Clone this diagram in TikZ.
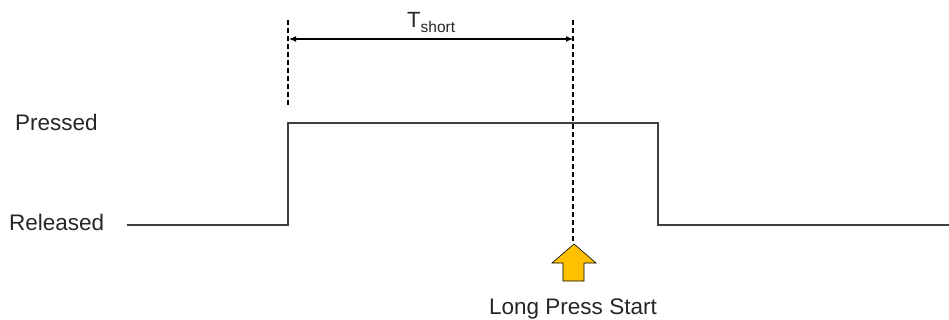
\documentclass[tikz,border=0pt]{standalone}
\usepackage{fontspec}
\setmainfont{Liberation Sans}
\usetikzlibrary{arrows.meta}
\definecolor{arrowyellow}{HTML}{FFC000}
\definecolor{sig}{HTML}{404040}
\definecolor{txt}{HTML}{262626}
\begin{document}
\begin{tikzpicture}[x=1pt,y=-1pt,
  lbl/.style={font=\fontsize{22.5}{26}\selectfont, text=txt, inner sep=0pt},
  signal/.style={draw=sig, line width=1.6pt},
  guide/.style={draw=black, line width=1.1pt, dash pattern=on 5pt off 3pt},
  dim/.style={draw=black, line width=1.1pt, {Latex[length=7pt,width=6pt]}-{Latex[length=7pt,width=6pt]}},
  blockarrow/.style={fill=arrowyellow, draw=black, line width=0.6pt}]
\useasboundingbox (0,0) rectangle (949,320);
% labels
\node[lbl, anchor=base west] (pressed) at (15,131) {Pressed};
\node[lbl, anchor=base west] (released) at (9,230) {Released};
\node[lbl, anchor=base] (lps) at (573,314) {Long Press Start};
% signal
\coordinate (s0) at (127,225);
\coordinate (r1) at (288,225);
\coordinate (p1) at (288,123);
\coordinate (p2) at (658,123);
\coordinate (r2) at (658,225);
\coordinate (s1) at (949,225);
\draw[signal] (s0) -- (r1) -- (p1) -- (p2) -- (r2) -- (s1);
% guides
\coordinate (gl0) at (288,20);
\coordinate (gl1) at (288,105);
\coordinate (gr0) at (573,20);
\coordinate (gr1) at (573,243);
\draw[guide] (gl0) -- (gl1);
\draw[guide] (gr0) -- (gr1);
% dimension
\coordinate (d0) at (289,39);
\coordinate (d1) at (573,39);
\draw[dim] (d0) -- (d1);
\node[inner sep=0pt, anchor=base west, text=txt] (tshort) at (407,28) {\fontsize{22}{24}\selectfont T\raisebox{-5pt}{\fontsize{15.5}{17}\selectfont short}};
% block arrow
\draw[blockarrow] (574,244) -- (596,263) -- (584,263) -- (584,281) -- (563,281) -- (563,263) -- (552,263) -- cycle;
\end{tikzpicture}
\end{document}
